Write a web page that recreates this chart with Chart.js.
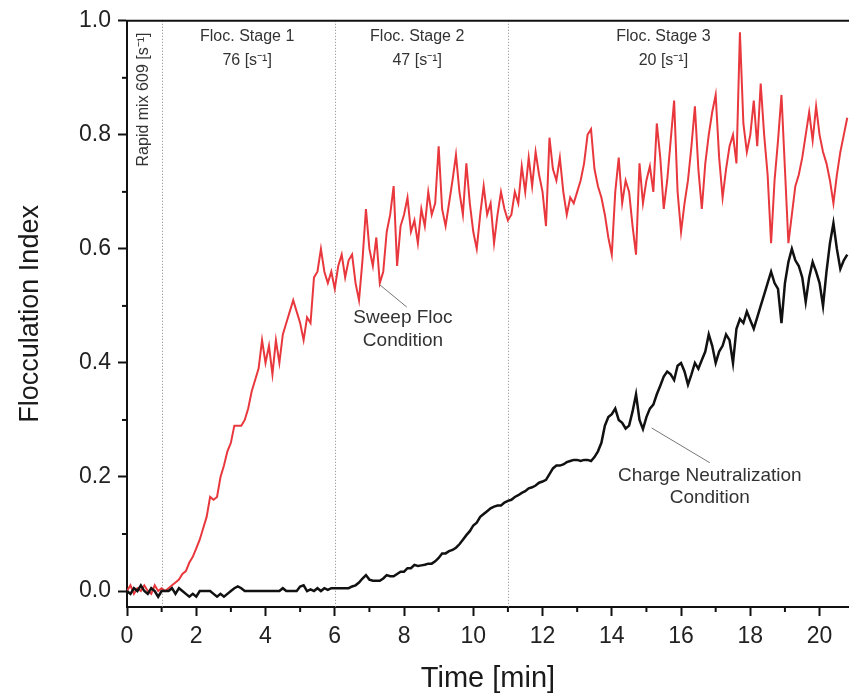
<!DOCTYPE html>
<html>
<head>
<meta charset="utf-8">
<script src="https://cdn.jsdelivr.net/npm/chart.js@4.4.1/dist/chart.umd.min.js"></script>
<style>
  html, body { margin: 0; padding: 0; background: #fff; }
  #wrap { width: 849px; height: 700px; }
</style>
</head>
<body>
<div id="wrap"><canvas id="floc-chart"></canvas></div>
<script>
var sweepFloc = [
  0.00, 0.01, -0.005, 0.005, 0.00, 0.01, 0.00, -0.005, 0.01, 0.00,
  0.005, 0.00, 0.005, 0.01, 0.015, 0.02, 0.03, 0.035, 0.05, 0.06,
  0.075, 0.09, 0.11, 0.13, 0.165, 0.16, 0.165, 0.20, 0.22, 0.245,
  0.26, 0.29, 0.29, 0.29, 0.30, 0.32, 0.35, 0.37, 0.39, 0.44,
  0.40, 0.43, 0.38, 0.44, 0.40, 0.45, 0.47, 0.49, 0.51, 0.49,
  0.47, 0.44, 0.48, 0.47, 0.55, 0.56, 0.60, 0.56, 0.54, 0.56,
  0.53, 0.57, 0.59, 0.55, 0.58, 0.59, 0.54, 0.51, 0.58, 0.67,
  0.60, 0.57, 0.62, 0.54, 0.56, 0.63, 0.66, 0.71, 0.57, 0.64,
  0.66, 0.69, 0.63, 0.65, 0.61, 0.67, 0.64, 0.70, 0.66, 0.68,
  0.78, 0.67, 0.64, 0.68, 0.72, 0.765, 0.70, 0.66, 0.75, 0.68,
  0.63, 0.60, 0.66, 0.71, 0.66, 0.68, 0.61, 0.66, 0.70, 0.67,
  0.65, 0.66, 0.70, 0.68, 0.745, 0.70, 0.76, 0.71, 0.77, 0.73,
  0.70, 0.64, 0.795, 0.74, 0.72, 0.76, 0.70, 0.66, 0.69, 0.68,
  0.70, 0.72, 0.75, 0.80, 0.81, 0.74, 0.71, 0.69, 0.66, 0.62,
  0.59, 0.70, 0.76, 0.68, 0.72, 0.70, 0.64, 0.59, 0.75, 0.68,
  0.72, 0.745, 0.70, 0.82, 0.76, 0.67, 0.72, 0.79, 0.86, 0.70,
  0.63, 0.68, 0.72, 0.78, 0.85, 0.74, 0.67, 0.75, 0.80, 0.84,
  0.87, 0.76, 0.69, 0.74, 0.78, 0.80, 0.75, 0.98, 0.82, 0.77,
  0.80, 0.86, 0.78, 0.89, 0.80, 0.73, 0.61, 0.72, 0.79, 0.87,
  0.74, 0.61, 0.66, 0.71, 0.73, 0.76, 0.80, 0.84, 0.79, 0.85,
  0.80, 0.77, 0.75, 0.72, 0.68, 0.73, 0.77, 0.80, 0.83
];

var chargeNeut = [
  0.00, -0.005, 0.005, 0.00, 0.01, 0.00, -0.005, 0.005, 0.00, -0.01,
  0.00, 0.00, 0.00, 0.005, -0.005, 0.005, 0.00, -0.005, -0.01, -0.005,
  -0.01, 0.00, 0.00, 0.00, 0.00, -0.005, -0.01, -0.005, -0.01, -0.005,
  0.00, 0.005, 0.008, 0.005, 0.00, 0.00, 0.00, 0.00, 0.00, 0.00,
  0.00, 0.00, 0.00, 0.00, 0.00, 0.005, 0.00, 0.00, 0.00, 0.00,
  0.008, 0.01, 0.00, 0.003, 0.00, 0.005, 0.00, 0.005, 0.002, 0.005,
  0.005, 0.005, 0.005, 0.005, 0.005, 0.008, 0.01, 0.015, 0.022, 0.028,
  0.02, 0.018, 0.018, 0.018, 0.022, 0.028, 0.026, 0.026, 0.03, 0.034,
  0.034, 0.04, 0.04, 0.046, 0.044, 0.045, 0.046, 0.048, 0.048, 0.052,
  0.058, 0.066, 0.066, 0.07, 0.072, 0.076, 0.082, 0.09, 0.098, 0.105,
  0.115, 0.12, 0.13, 0.135, 0.14, 0.145, 0.148, 0.15, 0.15, 0.155,
  0.158, 0.16, 0.165, 0.168, 0.172, 0.175, 0.18, 0.182, 0.185, 0.19,
  0.192, 0.195, 0.205, 0.215, 0.22, 0.22, 0.222, 0.226, 0.228, 0.23,
  0.23, 0.228, 0.23, 0.23, 0.228, 0.235, 0.245, 0.26, 0.29, 0.305,
  0.31, 0.32, 0.30, 0.295, 0.285, 0.29, 0.315, 0.345, 0.30, 0.284,
  0.305, 0.32, 0.327, 0.345, 0.36, 0.376, 0.385, 0.38, 0.37, 0.395,
  0.40, 0.385, 0.362, 0.38, 0.40, 0.39, 0.405, 0.42, 0.45, 0.43,
  0.40, 0.42, 0.43, 0.45, 0.44, 0.40, 0.46, 0.477, 0.47, 0.49,
  0.475, 0.46, 0.48, 0.50, 0.52, 0.54, 0.56, 0.54, 0.53, 0.47,
  0.54, 0.577, 0.60, 0.58, 0.57, 0.55, 0.507, 0.55, 0.577, 0.56,
  0.54, 0.50, 0.56, 0.61, 0.645, 0.60, 0.565, 0.58, 0.59
];

var timeStep = 0.1;
var xTicks = [0, 2, 4, 6, 8, 10, 12, 14, 16, 18, 20];
var xMinorTicks = [1, 3, 5, 7, 9, 11, 13, 15, 17, 19];
var yTicks = [0, 0.2, 0.4, 0.6, 0.8, 1.0];
var yMinorTicks = [0.1, 0.3, 0.5, 0.7, 0.9];
var stageBounds = [1, 6, 11];

var FONT = '"Liberation Sans", Arial, Helvetica, sans-serif';

function toPoints(values) {
    return values.map(function (v, i) {
        return { x: Math.round(i * timeStep * 10) / 10, y: v };
    });
}

// Dotted stage lines, top frame, minor ticks, annotations
var decorations = {
    id: 'decorations',
    beforeDatasetsDraw: function (chart) {
        var ctx = chart.ctx, a = chart.chartArea, xs = chart.scales.x;
        ctx.save();
        ctx.strokeStyle = '#8a8a8a';
        ctx.lineWidth = 1;
        ctx.setLineDash([1, 2]);
        stageBounds.forEach(function (b) {
            var px = Math.round(xs.getPixelForValue(b)) + 0.5;
            ctx.beginPath();
            ctx.moveTo(px, a.top);
            ctx.lineTo(px, a.bottom);
            ctx.stroke();
        });
        ctx.restore();
    },
    afterDraw: function (chart) {
        var ctx = chart.ctx, a = chart.chartArea;
        var xs = chart.scales.x, ys = chart.scales.y;
        ctx.save();

        // top frame
        ctx.strokeStyle = '#111';
        ctx.lineWidth = 2;
        ctx.beginPath();
        ctx.moveTo(a.left - 1, a.top);
        ctx.lineTo(a.right, a.top);
        ctx.stroke();

        // minor ticks
        ctx.lineWidth = 2;
        xMinorTicks.forEach(function (v) {
            var px = xs.getPixelForValue(v);
            ctx.beginPath();
            ctx.moveTo(px, a.bottom);
            ctx.lineTo(px, a.bottom + 5);
            ctx.stroke();
        });
        yMinorTicks.forEach(function (v) {
            var py = ys.getPixelForValue(v);
            ctx.beginPath();
            ctx.moveTo(a.left, py);
            ctx.lineTo(a.left - 5, py);
            ctx.stroke();
        });

        // stage labels
        ctx.fillStyle = '#333';
        ctx.textAlign = 'center';
        ctx.textBaseline = 'middle';
        ctx.font = '16px ' + FONT;
        var stages = [
            { x: 3.47, l1: 'Floc. Stage 1', l2: '76 [s⁻¹]' },
            { x: 8.38, l1: 'Floc. Stage 2', l2: '47 [s⁻¹]' },
            { x: 15.49, l1: 'Floc. Stage 3', l2: '20 [s⁻¹]' }
        ];
        stages.forEach(function (s) {
            var px = xs.getPixelForValue(s.x);
            ctx.fillText(s.l1, px, ys.getPixelForValue(0.972));
            ctx.fillText(s.l2, px, ys.getPixelForValue(0.930));
        });

        // rapid mix (vertical)
        ctx.save();
        ctx.translate(xs.getPixelForValue(0.47), ys.getPixelForValue(0.862));
        ctx.rotate(-Math.PI / 2);
        ctx.fillText('Rapid mix 609 [s⁻¹]', 0, 0);
        ctx.restore();

        // leader lines
        ctx.strokeStyle = '#777';
        ctx.lineWidth = 1;
        ctx.beginPath();
        ctx.moveTo(xs.getPixelForValue(7.30), ys.getPixelForValue(0.537));
        ctx.lineTo(xs.getPixelForValue(8.08), ys.getPixelForValue(0.498));
        ctx.moveTo(xs.getPixelForValue(15.15), ys.getPixelForValue(0.286));
        ctx.lineTo(xs.getPixelForValue(16.83), ys.getPixelForValue(0.225));
        ctx.stroke();

        ctx.font = '19px ' + FONT;
        ctx.fillText('Sweep Floc', xs.getPixelForValue(7.97), ys.getPixelForValue(0.479));
        ctx.fillText('Condition', xs.getPixelForValue(7.97), ys.getPixelForValue(0.439));
        ctx.fillText('Charge Neutralization', xs.getPixelForValue(16.83), ys.getPixelForValue(0.202));
        ctx.fillText('Condition', xs.getPixelForValue(16.83), ys.getPixelForValue(0.164));

        ctx.restore();
    }
};

var ctx = document.getElementById('floc-chart').getContext('2d');
var flocChart = new Chart(ctx, {
    type: 'line',
    data: {
        datasets: [{
            label: 'Charge Neutralization Condition',
            data: toPoints(chargeNeut),
            borderColor: '#111',
            borderWidth: 2.5,
            pointRadius: 0,
            tension: 0,
            order: 0
        }, {
            label: 'Sweep Floc Condition',
            data: toPoints(sweepFloc),
            borderColor: '#e8383d',
            borderWidth: 2,
            pointRadius: 0,
            tension: 0,
            order: 1
        }]
    },
    options: {
        responsive: true,
        maintainAspectRatio: false,
        animation: false,
        layout: { padding: { top: 17, right: 0, left: 0, bottom: 0 } },
        plugins: {
            legend: { display: false },
            tooltip: { enabled: false }
        },
        scales: {
            x: {
                type: 'linear',
                min: 0,
                max: 20.85,
                afterBuildTicks: function (scale) {
                    scale.ticks = xTicks.map(function (v) { return { value: v }; });
                },
                afterFit: function (scale) { scale.height = 93; },
                ticks: {
                    color: '#222',
                    padding: 7,
                    maxRotation: 0,
                    font: { size: 23, family: FONT },
                    callback: function (v) { return String(v); }
                },
                grid: {
                    display: true,
                    drawOnChartArea: false,
                    drawTicks: true,
                    tickLength: 9,
                    tickWidth: 2,
                    tickColor: '#111'
                },
                border: { display: true, color: '#111', width: 2 },
                title: {
                    display: true,
                    text: 'Time [min]',
                    color: '#1a1a1a',
                    font: { size: 29, family: FONT },
                    padding: { top: 0, bottom: 4 }
                }
            },
            y: {
                min: -0.028,
                max: 1.0,
                afterBuildTicks: function (scale) {
                    scale.ticks = yTicks.map(function (v) { return { value: v }; });
                },
                afterFit: function (scale) { scale.width = 127; },
                ticks: {
                    color: '#222',
                    padding: 7,
                    font: { size: 23, family: FONT },
                    callback: function (v) { return Number(v).toFixed(1); }
                },
                grid: {
                    display: true,
                    drawOnChartArea: false,
                    drawTicks: true,
                    tickLength: 9,
                    tickWidth: 2,
                    tickColor: '#111'
                },
                border: { display: true, color: '#111', width: 2 },
                title: {
                    display: true,
                    text: 'Flocculation Index',
                    color: '#1a1a1a',
                    font: { size: 27, family: FONT },
                    padding: { top: 14, bottom: 0 }
                }
            }
        }
    },
    plugins: [decorations]
});
</script>
</body>
</html>
